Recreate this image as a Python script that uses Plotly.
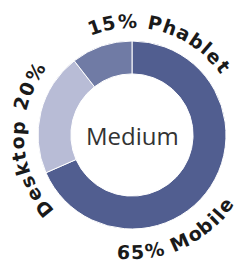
import math
import plotly.graph_objects as go

# data
devices = ["Mobile", "Desktop", "Phablet"]
shares_drawn = [65, 20, 10]
share_labels = ["65%", "20%", "15%"]
colors = ["#515e90", "#b8bcd6", "#707ba5"]
center_label = "Medium"

W, H = 243, 263
cx, cy, R = 132, 135, 94

fig = go.Figure(go.Pie(
    labels=devices, values=shares_drawn, sort=False, direction="clockwise",
    rotation=0, hole=0.65, textinfo="none", hoverinfo="label+percent",
    marker=dict(colors=colors, line=dict(color="white", width=1)),
    domain=dict(x=[(cx - R) / W, (cx + R) / W],
                y=[(H - cy - R) / H, (H - cy + R) / H]),
    showlegend=False,
))

widths = {"0": .64, "1": .6, "2": .64, "5": .64, "6": .64, "%": .95, " ": .35,
          "D": .77, "P": .67, "M": .9, "e": .63, "s": .55, "k": .65, "t": .45,
          "o": .63, "p": .66, "h": .66, "a": .63, "b": .66, "l": .34, "i": .34}

def arc_text(text, a0, a1, r, outward):
    ws = [widths.get(c, .6) for c in text]
    track = 0.05
    pos, acc = [], 0
    for w in ws:
        pos.append(acc + w / 2)
        acc += w + track
    p0, p1 = pos[0], pos[-1]
    anns = []
    for c, p in zip(text, pos):
        if c == " ":
            continue
        th = a0 + (a1 - a0) * (p - p0) / (p1 - p0)
        t = math.radians(th)
        x = cx + r * math.sin(t)
        y = cy - r * math.cos(t)
        rot = th if outward else th - 180
        rot = ((rot + 180) % 360) - 180
        anns.append(dict(x=x / W, y=1 - y / H, xref="paper", yref="paper",
                         text=c, showarrow=False, textangle=rot,
                         xanchor="center", yanchor="middle",
                         font=dict(family="DejaVu Sans", size=19, color="#1a1a1a",
                                   weight="bold")))
    return anns

anns = []
anns += arc_text(f"{share_labels[2]} {devices[2]}", -19, 53, 114, True)
anns += arc_text(f"{devices[1]} {share_labels[1]}", 230, 303, 115, True)
anns += arc_text(f"{share_labels[0]} {devices[0]}", 184, 127, 117, False)
anns.append(dict(x=cx / W, y=1 - cy / H, xref="paper", yref="paper",
                 text=center_label, showarrow=False, xanchor="center",
                 yanchor="middle",
                 font=dict(family="Open Sans", size=24, color="#333333")))

fig.update_layout(width=W, height=H, margin=dict(l=0, r=0, t=0, b=0),
                  paper_bgcolor="white", plot_bgcolor="white",
                  annotations=anns)
fig.write_html("out.html", config={"displayModeBar": False},
               post_script="document.body.style.margin='0';")
